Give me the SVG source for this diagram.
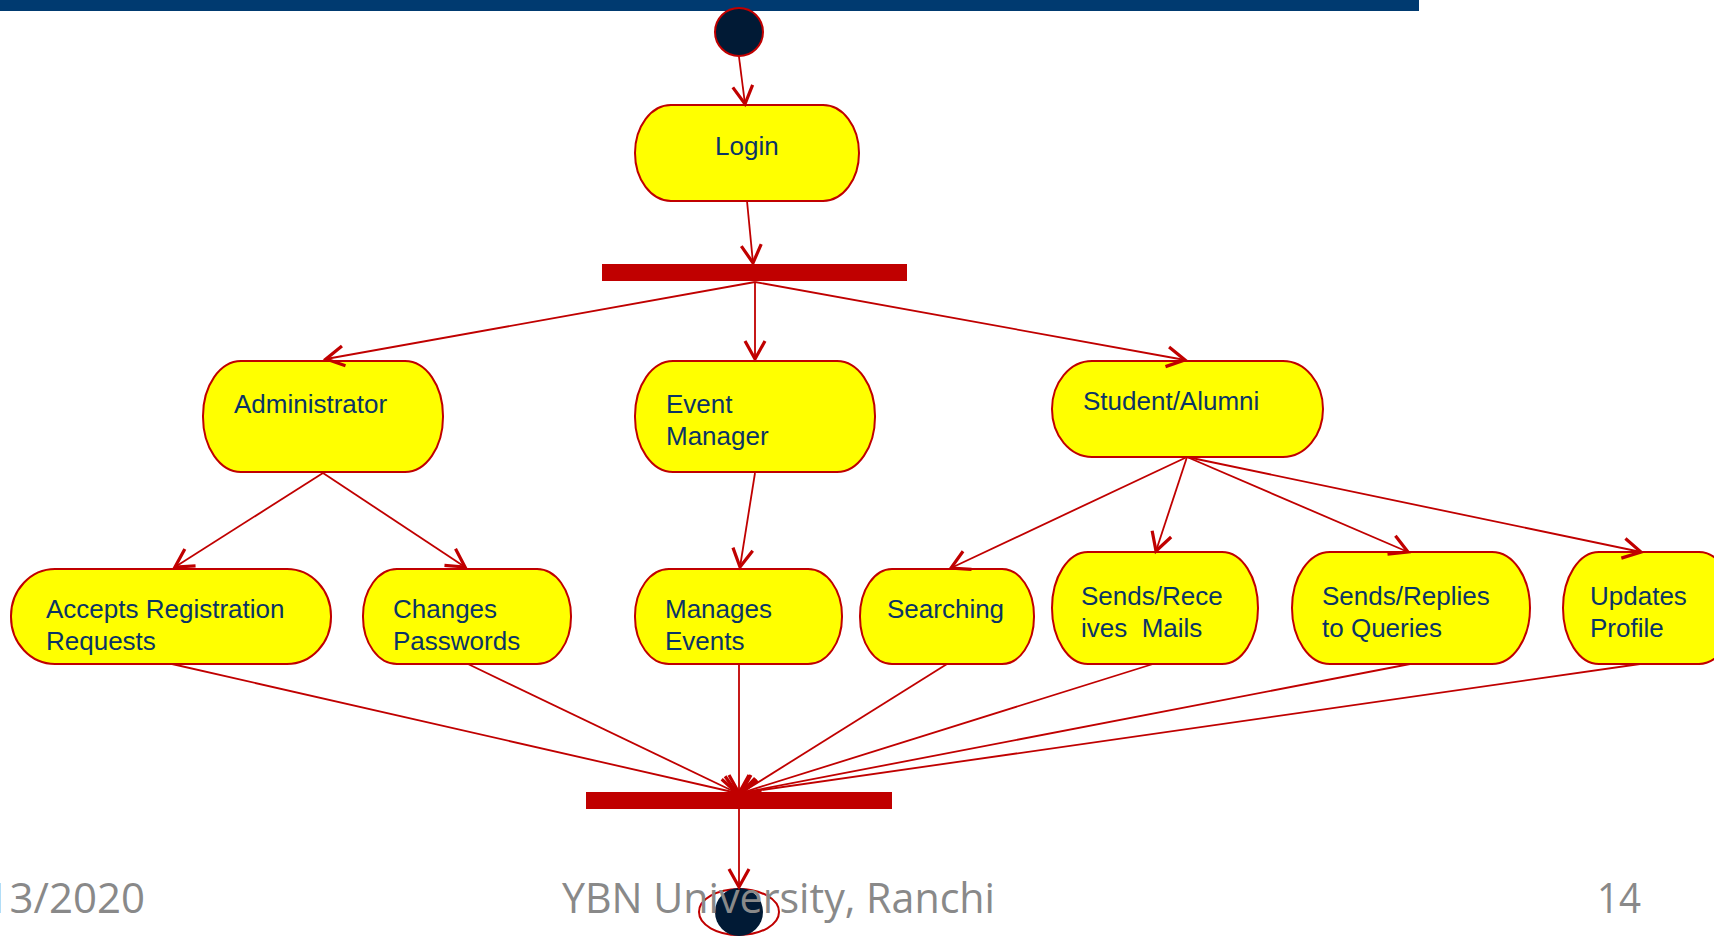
<svg xmlns="http://www.w3.org/2000/svg" width="1714" height="936" viewBox="0 0 1714 936">
<defs>
<style>
.node{fill:#ffff00;stroke:#c00000;stroke-width:2}
.lbl{font-family:"Liberation Sans",Arial,sans-serif;font-size:26px;fill:#0a3466;white-space:pre}
.edge{stroke:#c00000;stroke-width:1.8;fill:none;marker-end:url(#arr)}
.bar{fill:#c00000}
.foot{font-family:"Open Sans","Liberation Sans",sans-serif;font-size:42px;fill:#898989}
</style>
<marker id="arr" markerUnits="userSpaceOnUse" viewBox="0 0 22 22" markerWidth="22" markerHeight="22" refX="19" refY="11" orient="auto" overflow="visible">
<path d="M1,1 L19,11 L1,21" fill="none" stroke="#c00000" stroke-width="3.2"/>
</marker>
</defs>
<rect x="0" y="0" width="1714" height="936" fill="#ffffff"/>
<rect x="0" y="0" width="1419" height="11" fill="#003a70"/>

<g id="start"><circle cx="739" cy="32" r="24" fill="#011a35" stroke="#c00000" stroke-width="2"/></g>

<g id="fork1"><rect class="bar" x="602" y="264" width="305" height="17"/></g>
<g id="join"><rect class="bar" x="586" y="792" width="306" height="17"/></g>

<g id="login"><rect class="node" x="635" y="105" width="224" height="96" rx="36" ry="48"/><text class="lbl" x="715" y="155">Login</text></g>
<g id="administrator"><rect class="node" x="203" y="361" width="240" height="111" rx="38" ry="55"/><text class="lbl" x="234" y="413">Administrator</text></g>
<g id="eventmanager"><rect class="node" x="635" y="361" width="240" height="111" rx="38" ry="55"/><text class="lbl" x="666" y="413">Event</text><text class="lbl" x="666" y="445">Manager</text></g>
<g id="student"><rect class="node" x="1052" y="361" width="271" height="96" rx="40" ry="48"/><text class="lbl" x="1083" y="410">Student/Alumni</text></g>

<g id="accepts"><rect class="node" x="11" y="569" width="320" height="95" rx="44" ry="47"/><text class="lbl" x="46" y="618">Accepts Registration</text><text class="lbl" x="46" y="650">Requests</text></g>
<g id="changes"><rect class="node" x="363" y="569" width="208" height="95" rx="34" ry="47"/><text class="lbl" x="393" y="618">Changes</text><text class="lbl" x="393" y="650">Passwords</text></g>
<g id="manages"><rect class="node" x="635" y="569" width="207" height="95" rx="34" ry="47"/><text class="lbl" x="665" y="618">Manages</text><text class="lbl" x="665" y="650">Events</text></g>
<g id="searching"><rect class="node" x="860" y="569" width="174" height="95" rx="32" ry="47"/><text class="lbl" x="887" y="618">Searching</text></g>
<g id="sendsreceives"><rect class="node" x="1052" y="552" width="206" height="112" rx="36" ry="56"/><text class="lbl" x="1081" y="605">Sends/Rece</text><text class="lbl" x="1081" y="637">ives  Mails</text></g>
<g id="sendsreplies"><rect class="node" x="1292" y="552" width="238" height="112" rx="38" ry="56"/><text class="lbl" x="1322" y="605">Sends/Replies</text><text class="lbl" x="1322" y="637">to Queries</text></g>
<g id="updates"><rect class="node" x="1563" y="552" width="172" height="112" rx="36" ry="56"/><text class="lbl" x="1590" y="605">Updates</text><text class="lbl" x="1590" y="637">Profile</text></g>

<g id="end"><ellipse cx="739" cy="912" rx="40" ry="23" fill="none" stroke="#c00000" stroke-width="2"/><circle cx="739" cy="912" r="24" fill="#011a35"/></g>

<g id="connectors">
<line class="edge" x1="739" y1="57" x2="745" y2="104"/>
<line class="edge" x1="747" y1="201" x2="753" y2="263"/>
<line class="edge" x1="755" y1="282" x2="326" y2="359"/>
<line class="edge" x1="755" y1="282" x2="755" y2="359"/>
<line class="edge" x1="755" y1="282" x2="1185" y2="360"/>
<line class="edge" x1="323" y1="473" x2="175" y2="567"/>
<line class="edge" x1="323" y1="473" x2="465" y2="567"/>
<line class="edge" x1="755" y1="473" x2="740" y2="567"/>
<line class="edge" x1="1187" y1="457" x2="951" y2="568"/>
<line class="edge" x1="1187" y1="457" x2="1156" y2="551"/>
<line class="edge" x1="1187" y1="457" x2="1408" y2="552"/>
<line class="edge" x1="1187" y1="457" x2="1641" y2="552"/>
<line class="edge" x1="172" y1="664" x2="737" y2="793"/>
<line class="edge" x1="468" y1="664" x2="737" y2="793"/>
<line class="edge" x1="739" y1="664" x2="739" y2="793"/>
<line class="edge" x1="947" y1="664" x2="741" y2="793"/>
<line class="edge" x1="1153" y1="664" x2="741" y2="793"/>
<line class="edge" x1="1410" y1="664" x2="741" y2="793"/>
<line class="edge" x1="1640" y1="664" x2="741" y2="793"/>
<line class="edge" x1="739" y1="809" x2="739" y2="887"/>
</g>

<text class="foot" x="145" y="913" text-anchor="end">13/2020</text>
<text class="foot" x="562" y="913" textLength="433" lengthAdjust="spacingAndGlyphs">YBN University, Ranchi</text>
<text class="foot" x="1597" y="913" textLength="44" lengthAdjust="spacingAndGlyphs">14</text>
</svg>
